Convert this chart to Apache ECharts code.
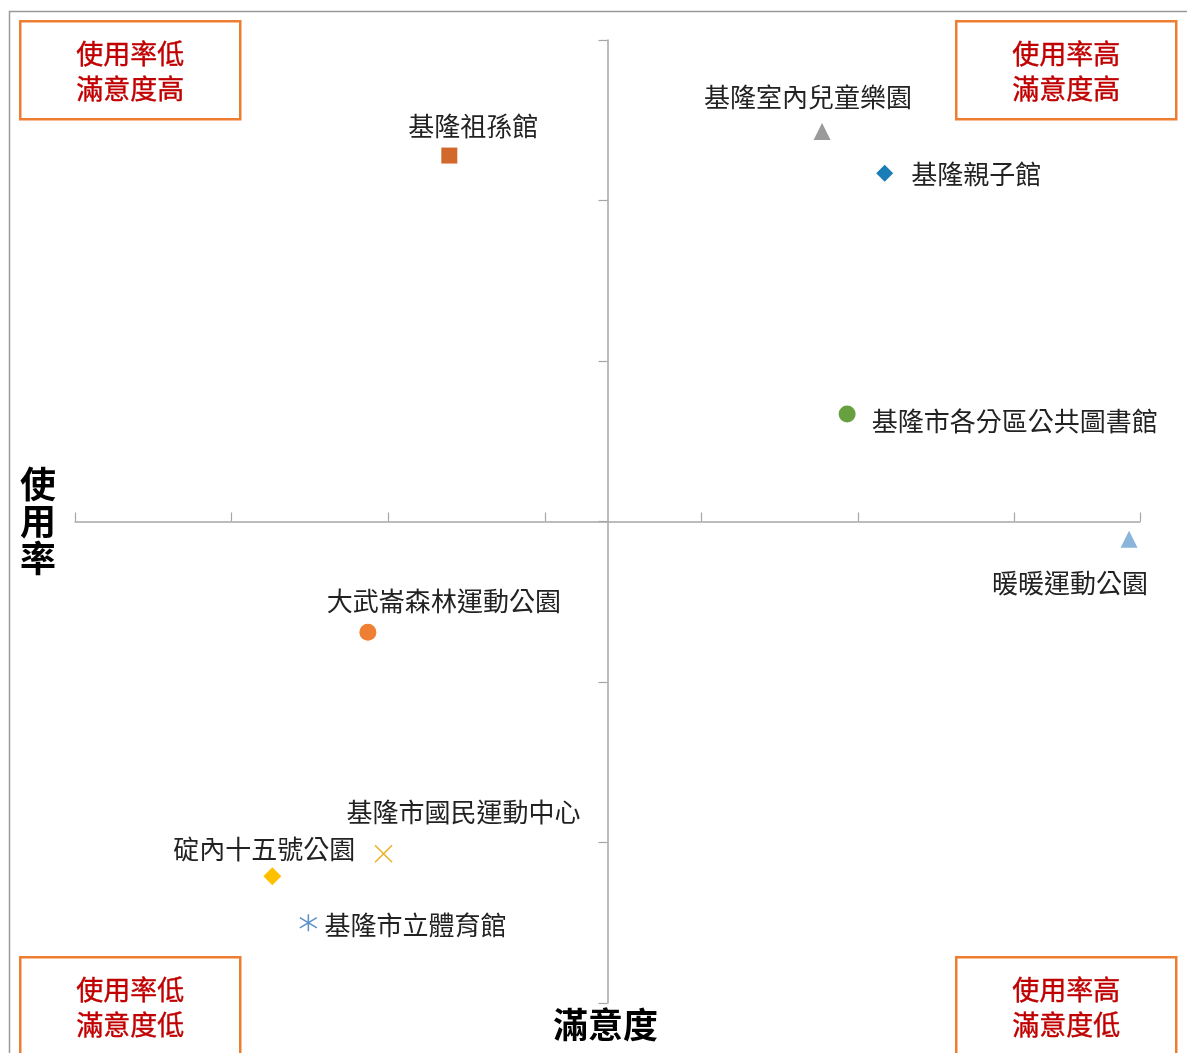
<!DOCTYPE html>
<html>
<head>
<meta charset="utf-8">
<script src="https://cdn.jsdelivr.net/npm/echarts@6/dist/echarts.min.js"></script>
<style>
  html, body { margin: 0; padding: 0; background: #fff; }
  #chart { width: 1187px; height: 1053px; }
</style>
</head>
<body>
<div id="chart"></div>
<script>
// venues, satisfaction (x, centred on the mean) and usage (y, centred on the mean)
const venues = ['基隆祖孫館', '基隆室內兒童樂園', '基隆親子館', '基隆市各分區公共圖書館', '暖暖運動公園',
  '大武崙森林運動公園', '基隆市國民運動中心', '碇內十五號公園', '基隆市立體育館'];
const satisfaction = [-1.01, 1.37, 1.77, 1.53, 3.33, -1.53, -1.43, -2.14, -1.91];
const usage = [2.28, 2.43, 2.17, 0.67, -0.11, -0.69, -2.07, -2.21, -2.50];
const quadrantText = ['使用率低\n滿意度高', '使用率高\n滿意度高', '使用率低\n滿意度低', '使用率高\n滿意度低'];

// marker + label look for each venue
const looks = [
  { symbol: 'rect', size: 16, color: '#D2692C', pos: 'top', offset: [24, -3] },
  { symbol: 'triangle', size: 17, color: '#9A9A9A', pos: 'top', offset: [-14, -8] },
  { symbol: 'diamond', size: 17, color: '#1A7DB6', pos: 'right', offset: [13, 1] },
  { symbol: 'circle', size: 17, color: '#67A03F', pos: 'right', offset: [11, 7] },
  { symbol: 'triangle', size: 17, color: '#8AB4DA', pos: 'bottom', offset: [-59, 17] },
  { symbol: 'circle', size: 17, color: '#EE7F33', pos: 'top', offset: [76, -5] },
  { symbol: 'path://M0,0 L10,10 M10,0 L0,10', size: 17, color: '#EDB020', line: true, pos: 'top', offset: [80, -14] },
  { symbol: 'diamond', size: 18, color: '#FFC000', pos: 'top', offset: [-8, 0] },
  { symbol: 'path://M5,0 L5,10 M0,2 L10,8 M0,8 L10,2', size: 17, color: '#5B8FC9', line: true, pos: 'right', offset: [2, 2] }
];

const chart = echarts.init(document.getElementById('chart'));
const axisGrey = '#A6A6A6';
const labelFont = '"Noto Sans CJK TC", "Noto Sans CJK SC", sans-serif';

const series = venues.map((name, i) => {
  const lk = looks[i];
  return {
    name: name,
    type: 'scatter',
    symbol: lk.symbol,
    symbolSize: lk.size,
    itemStyle: lk.line
      ? { color: 'transparent', borderColor: lk.color, borderWidth: 1.5, opacity: 1 }
      : { color: lk.color, opacity: 1 },
    label: {
      show: true,
      formatter: name,
      position: lk.pos,
      offset: lk.offset,
      fontSize: 26,
      fontFamily: labelFont,
      color: '#222222',
      opacity: 1
    },
    data: [[satisfaction[i], usage[i]]]
  };
});

function quadBox(x, y, text) {
  return {
    type: 'group',
    left: x, top: y,
    children: [
      { type: 'rect', shape: { x: 0, y: 0, width: 220, height: 98 },
        style: { fill: '#fff', stroke: '#ED7D31', lineWidth: 2.5 } },
      { type: 'text', x: 110, y: 50,
        style: { text: text, fill: '#C00000', font: '27px ' + labelFont,
          align: 'center', verticalAlign: 'middle', lineHeight: 35,
          stroke: '#C00000', lineWidth: 0.4 } }
    ]
  };
}

const option = {
  animation: false,
  grid: { left: 75, right: 47, top: 40, bottom: 50 },
  xAxis: {
    type: 'value',
    min: -3.4, max: 3.4, interval: 1,
    axisLine: { onZero: true, lineStyle: { color: axisGrey, width: 1.5 } },
    axisTick: { show: true, inside: true, length: 9, lineStyle: { color: axisGrey, width: 1.2 } },
    axisLabel: { show: false },
    splitLine: { show: false }
  },
  yAxis: {
    type: 'value',
    min: -3, max: 3, interval: 1,
    axisLine: { show: true, onZero: true, lineStyle: { color: axisGrey, width: 1.5 } },
    axisTick: { show: true, length: 9, lineStyle: { color: axisGrey, width: 1.2 } },
    axisLabel: { show: false },
    splitLine: { show: false }
  },
  graphic: [
    { type: 'rect', left: 7, top: 9, shape: { width: 1200, height: 1100 },
      style: { fill: 'none', stroke: '#9A9A9A', lineWidth: 1.5 }, z: -10 },
    quadBox(19, 20, quadrantText[0]),
    quadBox(955, 20, quadrantText[1]),
    quadBox(19, 956, quadrantText[2]),
    quadBox(955, 956, quadrantText[3]),
    { type: 'text', left: 20, top: 466,
      style: { text: '使\n用\n率', fill: '#000', font: 'bold 36px ' + labelFont, lineHeight: 37 } },
    { type: 'text', left: 553, top: 1007,
      style: { text: '滿意度', fill: '#000', font: 'bold 35px ' + labelFont } }
  ],
  series: series
};

chart.setOption(option);
window.addEventListener('resize', () => chart.resize());
</script>
</body>
</html>
